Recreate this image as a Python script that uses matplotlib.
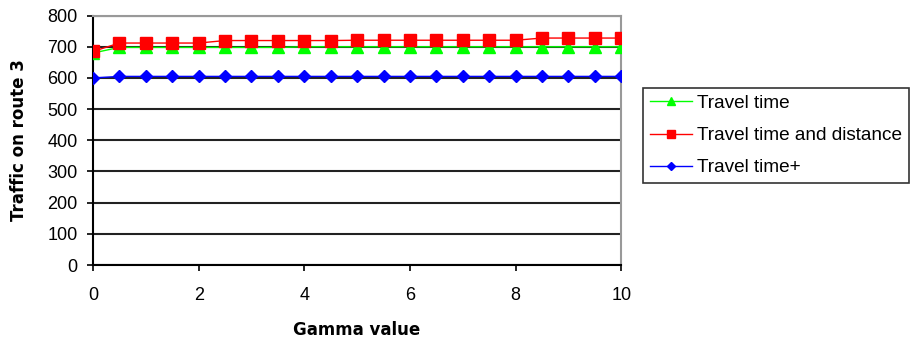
import matplotlib
matplotlib.use("Agg")
import matplotlib.pyplot as plt

plt.rcParams['font.family'] = ['Liberation Sans', 'DejaVu Sans']

gamma = [0, 0.5, 1, 1.5, 2, 2.5, 3, 3.5, 4, 4.5, 5, 5.5, 6, 6.5, 7, 7.5, 8, 8.5, 9, 9.5, 10]
travel_time = [680, 698, 698, 698, 698, 698, 698, 698, 700, 700, 700, 700, 700, 700, 700, 700, 700, 700, 700, 700, 700]
travel_time_dist = [685, 712, 712, 712, 712, 720, 720, 720, 720, 720, 721, 721, 721, 721, 721, 721, 721, 728, 728, 728, 728]
travel_time_plus = [600, 605, 605, 605, 605, 605, 605, 605, 605, 605, 605, 605, 605, 605, 605, 605, 605, 605, 605, 605, 605]

yticks = [0, 100, 200, 300, 400, 500, 600, 700, 800]
xticks = [0, 2, 4, 6, 8, 10]

fig = plt.figure(figsize=(9.15, 3.43), dpi=100)
ax = fig.add_axes([0.1016, 0.2274, 0.5774, 0.7271])

ax.plot(gamma, travel_time, color='#00ff00', marker='^', markersize=8, lw=1, label='Travel time', zorder=3)
ax.plot(gamma, travel_time_dist, color='#ff0000', marker='s', markersize=8, lw=1, label='Travel time and distance', zorder=4)
ax.plot(gamma, travel_time_plus, color='#0000ff', marker='D', markersize=6, lw=1, label='Travel time+', zorder=3)

ax.set_xlim(0, 10)
ax.set_ylim(0, 800)
ax.set_yticks(yticks)
ax.set_xticks(xticks)
ax.yaxis.grid(True, color='#222222', lw=1.5)
ax.set_axisbelow(True)
for s in ['top', 'right']:
    ax.spines[s].set_color('#999999')
    ax.spines[s].set_linewidth(1.5)
for s in ['left', 'bottom']:
    ax.spines[s].set_color('black')
    ax.spines[s].set_linewidth(1.5)
ax.tick_params(axis='both', labelsize=13, direction='out', length=4, width=1.2)
ax.tick_params(axis='y', pad=7)
ax.tick_params(axis='x', pad=12)
ax.set_xlabel('Gamma value', fontsize=12, fontweight='bold', family='DejaVu Sans', labelpad=12)
ax.set_ylabel('Traffic on route 3', fontsize=12, fontweight='bold', family='DejaVu Sans', labelpad=14)

leg = fig.legend(loc='upper left', bbox_to_anchor=(0.703, 0.743), fontsize=13.7,
                 frameon=True, fancybox=False, edgecolor='black', borderpad=0.35,
                 handlelength=2.2, handletextpad=0.3, labelspacing=0.78,
                 markerscale=0.75, borderaxespad=0)
leg.get_frame().set_linewidth(1.2)

fig.savefig('out.png', dpi=100)
